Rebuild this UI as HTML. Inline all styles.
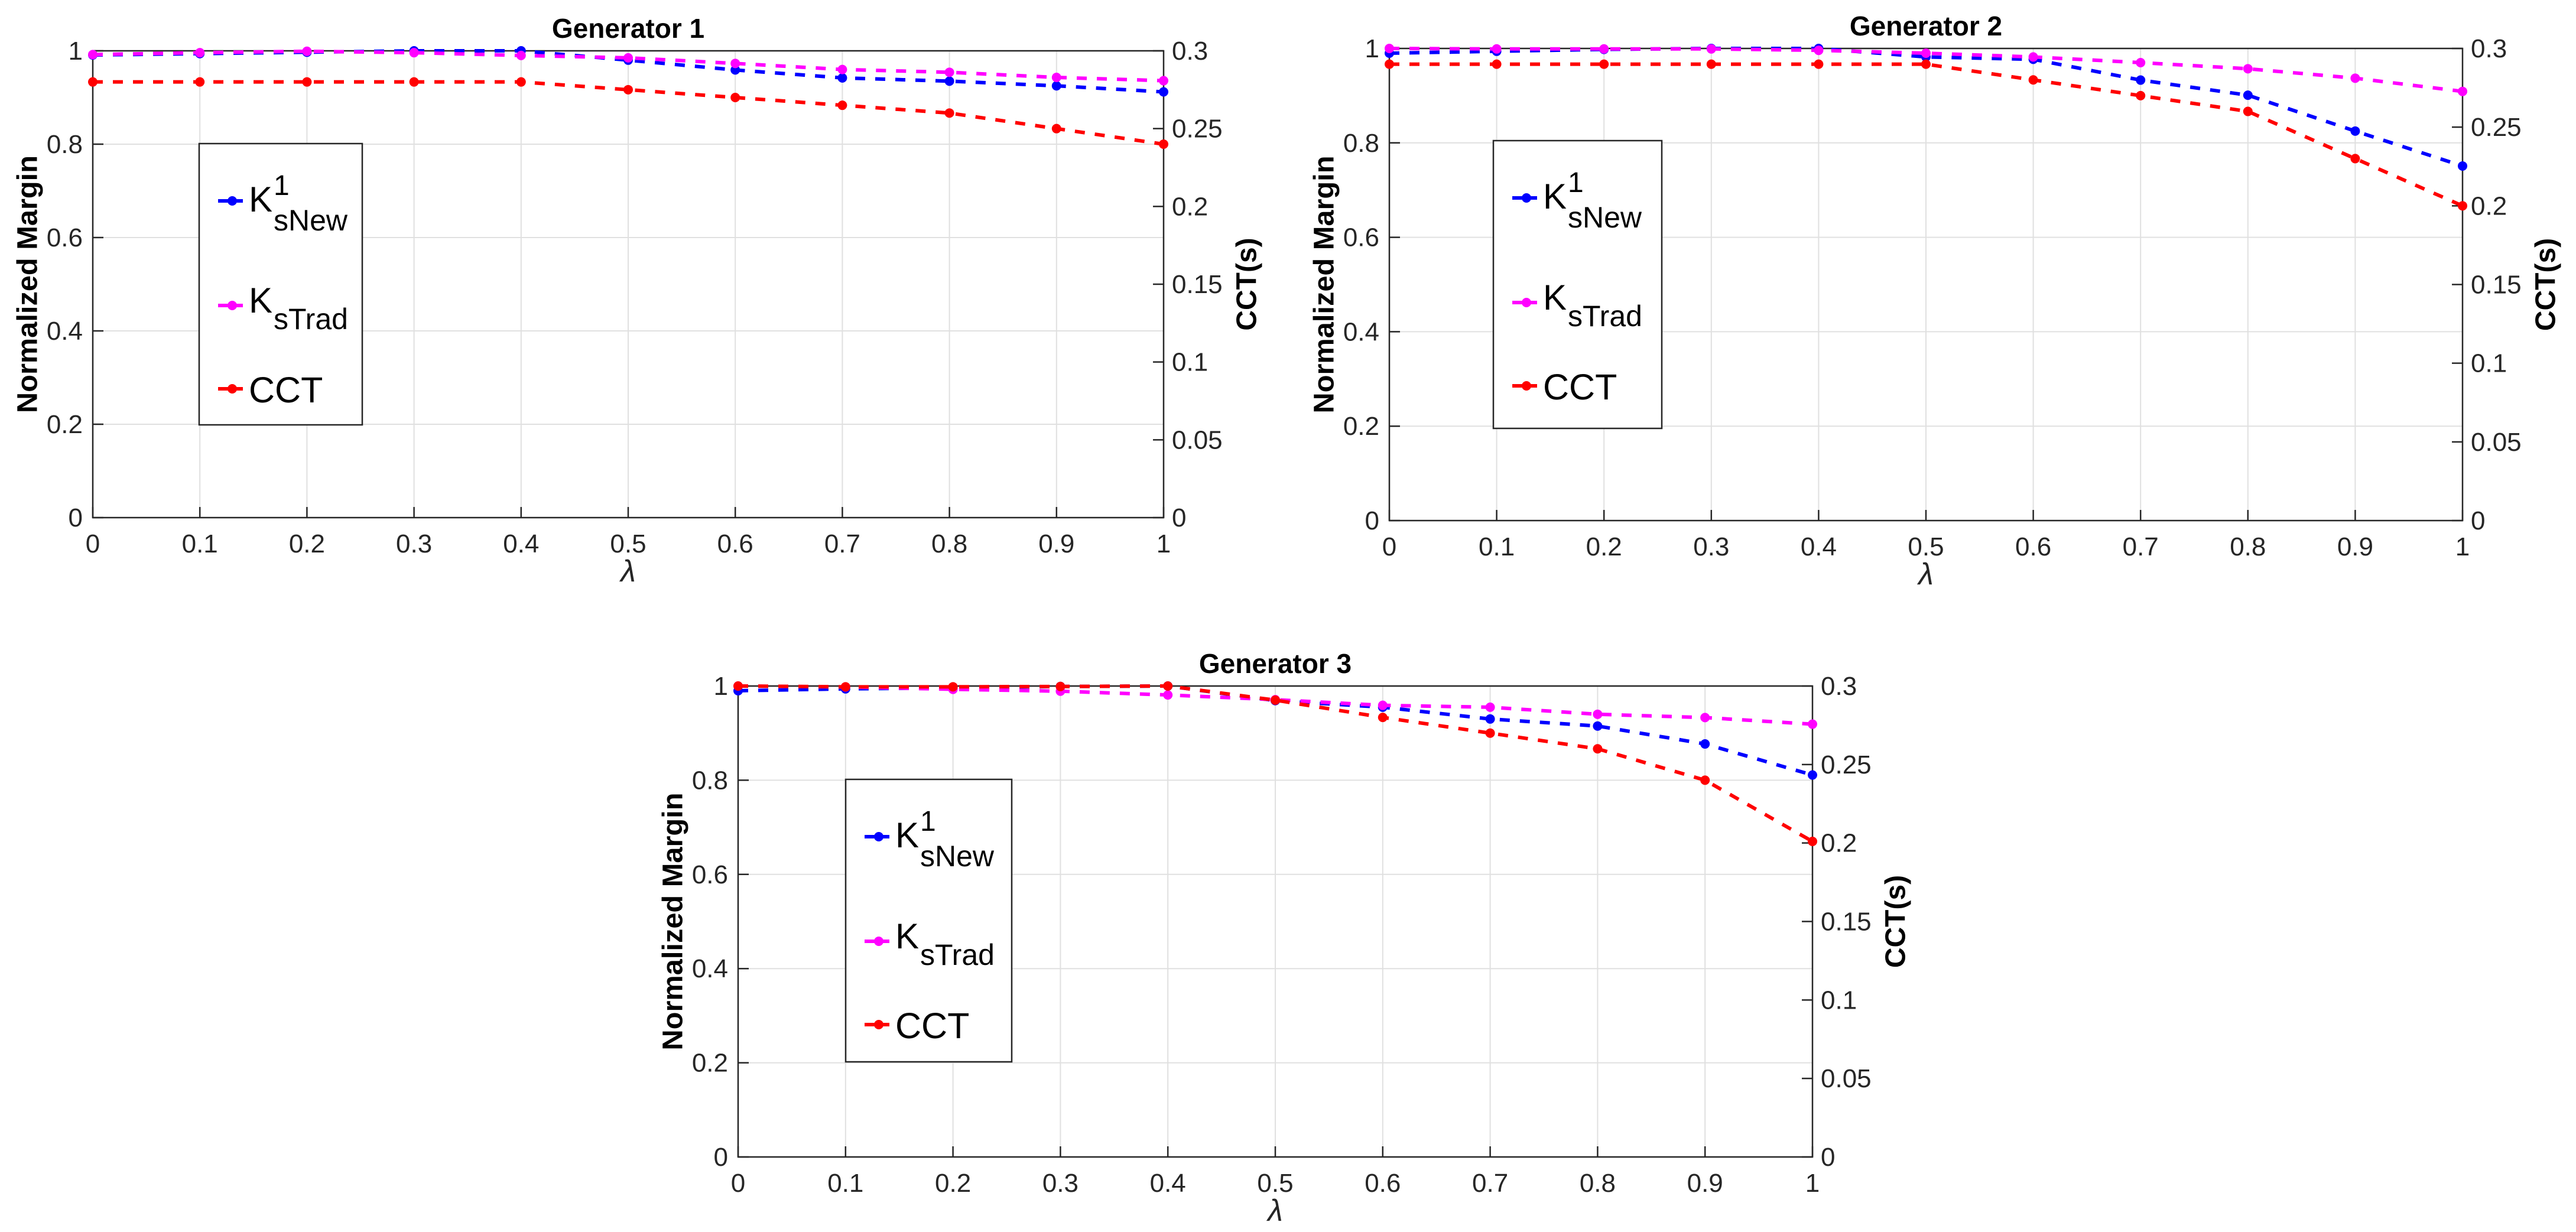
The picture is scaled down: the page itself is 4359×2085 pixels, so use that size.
<!DOCTYPE html>
<html><head><meta charset="utf-8"><style>
html,body{margin:0;padding:0;background:#fff;}
svg{display:block;font-family:"Liberation Sans",Arial,sans-serif;}
</style></head><body>
<svg id="fig" width="4359" height="2085" viewBox="0 0 4359 2085" xmlns="http://www.w3.org/2000/svg"></svg>
<script>
const lambdas = [0,0.1,0.2,0.3,0.4,0.5,0.6,0.7,0.8,0.9,1];
const xTickLabels = ["0","0.1","0.2","0.3","0.4","0.5","0.6","0.7","0.8","0.9","1"];
const yLeftTicks = [0,0.2,0.4,0.6,0.8,1];
const yLeftTickLabels = ["0","0.2","0.4","0.6","0.8","1"];
const yRightTicks = [0,0.05,0.1,0.15,0.2,0.25,0.3];
const yRightTickLabels = ["0","0.05","0.1","0.15","0.2","0.25","0.3"];
const titles = ["Generator 1","Generator 2","Generator 3"];

const g1New  = [0.991,0.994,0.997,1.0,1.0,0.980,0.959,0.942,0.935,0.925,0.912];
const g1Trad = [0.992,0.996,0.999,0.996,0.990,0.985,0.973,0.960,0.954,0.943,0.936];
const g1CCT  = [0.280,0.280,0.280,0.280,0.280,0.275,0.270,0.265,0.260,0.250,0.240];

const g2New  = [0.990,0.994,0.998,1.0,1.0,0.982,0.977,0.933,0.901,0.825,0.751];
const g2Trad = [1.0,0.999,0.999,0.999,0.996,0.990,0.982,0.970,0.957,0.937,0.909];
const g2CCT  = [0.290,0.290,0.290,0.290,0.290,0.290,0.280,0.270,0.260,0.230,0.200];

const g3New  = [0.990,0.994,0.996,0.999,1.0,0.969,0.955,0.930,0.915,0.877,0.811];
const g3Trad = [1.0,0.998,0.993,0.989,0.981,0.971,0.959,0.955,0.940,0.933,0.919];
const g3CCT  = [0.300,0.2995,0.2995,0.2997,0.300,0.291,0.280,0.270,0.260,0.240,0.201];

const NS="http://www.w3.org/2000/svg";
const svg=document.getElementById('fig');
function mk(tag,attrs,parent){const e=document.createElementNS(NS,tag);for(const k in attrs)e.setAttribute(k,attrs[k]);(parent||svg).appendChild(e);return e;}

const panels=[
 {L:157,R:1969,T:86,B:876,leg:{x:337,y:243,w:276,h:476},data:[g1New,g1Trad,g1CCT]},
 {L:2351,R:4167,T:82,B:881,leg:{x:2527,y:238,w:285,h:487},data:[g2New,g2Trad,g2CCT]},
 {L:1249,R:3067,T:1161,B:1958,leg:{x:1431,y:1319,w:281,h:478},data:[g3New,g3Trad,g3CCT]}
];
const colors=["#0000ff","#ff00ff","#ff0000"];
const seriesNames=["k-snew","k-strad","cct"];

panels.forEach((p,pi)=>{
 const g=mk('g',{});
 
 
 const xs=v=>p.L+(p.R-p.L)*v;
 const yl=v=>p.B-(p.B-p.T)*v;
 const yr=v=>p.B-(p.B-p.T)*(v/0.3);
 lambdas.forEach((v,i)=>{if(i>0&&i<lambdas.length-1){const l=mk('line',{x1:xs(v),x2:xs(v),y1:p.T,y2:p.B,stroke:'#e0e0e0','stroke-width':2},g);}});
 yLeftTicks.forEach((v,i)=>{if(i>0&&i<yLeftTicks.length-1){const l=mk('line',{x1:p.L,x2:p.R,y1:yl(v),y2:yl(v),stroke:'#e0e0e0','stroke-width':2},g);}});
 const box=mk('rect',{x:p.L,y:p.T,width:p.R-p.L,height:p.B-p.T,fill:'none',stroke:'#262626','stroke-width':2.5},g);
 
 lambdas.forEach((v,i)=>{
  mk('line',{x1:xs(v),x2:xs(v),y1:p.B,y2:p.B-18,stroke:'#262626','stroke-width':2.5},g);
  const t=mk('text',{x:xs(v),y:p.B+59,'font-size':44,fill:'#262626','text-anchor':'middle'},g);
  t.textContent=xTickLabels[i];
  
 });
 yLeftTicks.forEach((v,i)=>{
  mk('line',{x1:p.L,x2:p.L+18,y1:yl(v),y2:yl(v),stroke:'#262626','stroke-width':2.5},g);
  const t=mk('text',{x:p.L-17,y:yl(v)+15,'font-size':44,fill:'#262626','text-anchor':'end'},g);
  t.textContent=yLeftTickLabels[i];
  
 });
 yRightTicks.forEach((v,i)=>{
  mk('line',{x1:p.R,x2:p.R-18,y1:yr(v),y2:yr(v),stroke:'#262626','stroke-width':2.5},g);
  const t=mk('text',{x:p.R+14,y:yr(v)+15,'font-size':44,fill:'#262626','text-anchor':'start'},g);
  t.textContent=yRightTickLabels[i];
  
 });
 const ti=mk('text',{x:(p.L+p.R)/2,y:p.T-22,'font-size':46,'font-weight':'bold','text-anchor':'middle',fill:'#000'},g);
 ti.textContent=titles[pi];
 const xl=mk('text',{x:(p.L+p.R)/2,y:p.B+108,'font-size':52,'font-style':'italic','text-anchor':'middle',fill:'#262626'},g);
 xl.textContent='λ';
 const cy=(p.T+p.B)/2, lx=p.L-110;
 const ylb=mk('text',{x:lx,y:cy,'font-size':48,'font-weight':'bold','text-anchor':'middle','dominant-baseline':'central',transform:`rotate(-90 ${lx} ${cy})`,textLength:436,lengthAdjust:'spacingAndGlyphs',fill:'#000'},g);
 ylb.textContent='Normalized Margin';
 const rx=p.R+141;
 const yrb=mk('text',{x:rx,y:cy,'font-size':48,'font-weight':'bold','text-anchor':'middle','dominant-baseline':'central',transform:`rotate(-90 ${rx} ${cy})`,fill:'#000'},g);
 yrb.textContent='CCT(s)';
 p.data.forEach((arr,si)=>{
  const ys=si===2?yr:yl;
  const pts=arr.map((v,i)=>xs(lambdas[i])+','+ys(v)).join(' ');
  const sg=mk('g',{},g);
  
  const pl=mk('polyline',{points:pts,fill:'none',stroke:colors[si],'stroke-width':6,'stroke-dasharray':'17 17'},sg);
  
  arr.forEach((v,i)=>{
   const c=mk('circle',{cx:xs(lambdas[i]),cy:ys(v),r:8,fill:colors[si]},sg);
   
  });
 });
 const lg=mk('g',{},g);
 
 const q=p.leg;
 mk('rect',{x:q.x,y:q.y,width:q.w,height:q.h,fill:'#fff',stroke:'#262626','stroke-width':2.5},lg);
 const offs=[97,274,415];
 offs.forEach((o,si)=>{
  const my=q.y+o, mx=q.x+56;
  const eg=mk('g',{},lg);
  
  mk('line',{x1:mx-24,x2:mx+24,y1:my,y2:my,stroke:colors[si],'stroke-width':6,'stroke-dasharray':'17 8'},eg);
  mk('circle',{cx:mx,cy:my,r:8,fill:colors[si]},eg);
  const tx=mx+28;
  if(si===0){
   const a=mk('text',{x:tx,y:my+18,'font-size':60,fill:'#000'},eg);a.textContent='K';
   const b=mk('text',{x:tx+42,y:my-10,'font-size':48,fill:'#000'},eg);b.textContent='1';
   const c=mk('text',{x:tx+42,y:my+50,'font-size':50,fill:'#000'},eg);c.textContent='sNew';
  } else if(si===1){
   const a=mk('text',{x:tx,y:my+12,'font-size':60,fill:'#000'},eg);a.textContent='K';
   const c=mk('text',{x:tx+42,y:my+40,'font-size':50,fill:'#000'},eg);c.textContent='sTrad';
  } else {
   const a=mk('text',{x:tx,y:my+23,'font-size':61,fill:'#000'},eg);a.textContent='CCT';
  }
 });
});
</script>
</body></html>
